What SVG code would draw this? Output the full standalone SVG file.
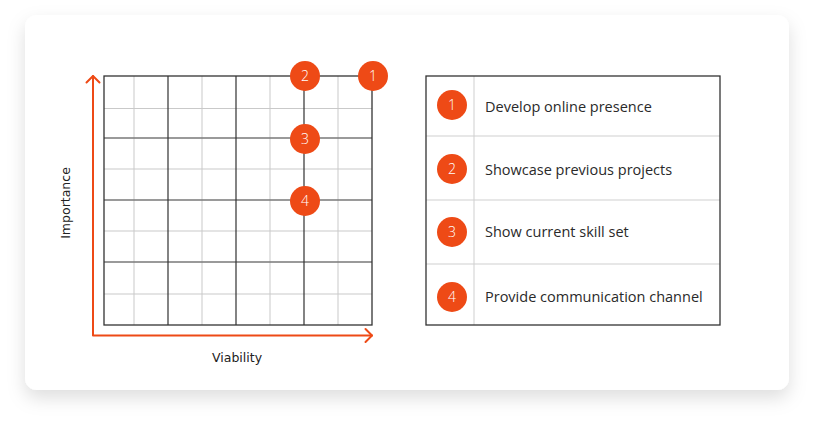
<svg xmlns="http://www.w3.org/2000/svg" width="814" height="426" viewBox="0 0 814 426">
  <defs>
    <filter id="cardShadow" x="-10%" y="-10%" width="120%" height="130%">
      <feDropShadow dx="0" dy="8" stdDeviation="9" flood-color="#000" flood-opacity="0.13"/>
    </filter>
  </defs>
  <style>
    .thin { stroke: #c9c9c9; stroke-width: 1; fill: none; }
    .majv { stroke: #333; stroke-width: 1.2; fill: none; }
    .majh { stroke: #7a7a7a; stroke-width: 1.4; fill: none; }
    .frame { stroke: #333; stroke-width: 1.3; fill: none; }
    .axis { stroke: #ee4a16; stroke-width: 2; fill: none; stroke-linecap: round; stroke-linejoin: round; }
    .dot { fill: #ee4a16; }
    .num { fill: #fff; font-family: "Open Sans", "Liberation Sans", sans-serif; font-size: 14px; font-weight: 300; text-anchor: middle; }
    .label { fill: #2a2a2a; font-family: "Open Sans", "Liberation Sans", sans-serif; font-size: 14.5px; }
    .axislabel { fill: #222; font-family: "DejaVu Sans", sans-serif; font-size: 12.5px; text-anchor: middle; }
    .tdiv { stroke: #cfcfcf; stroke-width: 1; }
  </style>

  <rect width="814" height="426" fill="#ffffff"/>
  <rect x="25" y="15" width="764" height="375" rx="12" fill="#ffffff" filter="url(#cardShadow)"/>

  <!-- matrix grid -->
  <g id="grid">
    <path class="thin" d="M134 76V325M202 76V325M270 76V325M338 76V325"/>
    <path class="thin" d="M104 108.5H372M104 169H372M104 231H372M104 294H372"/>
    <path class="majh" d="M104 138H372M104 200H372M104 262H372"/>
    <path class="majv" d="M168 76V325M236 76V325M304 76V325"/>
    <rect class="frame" x="104" y="76" width="268" height="249"/>
  </g>

  <!-- axes -->
  <g id="connectors">
    <path class="axis" d="M93 335V76"/>
    <path class="axis" d="M86.5 82.5L93 76L99.5 82.5"/>
    <path class="axis" d="M93 335.5H372"/>
    <path class="axis" d="M365.5 329L372 335.5L365.5 342"/>
  </g>

  <g id="axis-x-label"><text class="axislabel" x="237" y="362">Viability</text></g>
  <g id="axis-y-label"><text class="axislabel" transform="translate(70 203) rotate(-90)">Importance</text></g>

  <!-- markers on the matrix -->
  <g id="point-1"><circle class="dot" cx="373" cy="76" r="15"/><text class="num" x="373" y="81">1</text></g>
  <g id="point-2"><circle class="dot" cx="305" cy="76" r="15"/><text class="num" x="305" y="81">2</text></g>
  <g id="point-3"><circle class="dot" cx="305" cy="139" r="15"/><text class="num" x="305" y="144">3</text></g>
  <g id="point-4"><circle class="dot" cx="305" cy="201" r="15"/><text class="num" x="305" y="206">4</text></g>

  <!-- legend table -->
  <g id="legend">
    <line class="tdiv" x1="474" y1="76" x2="474" y2="325"/>
    <line class="tdiv" x1="426" y1="136" x2="720" y2="136"/>
    <line class="tdiv" x1="426" y1="200" x2="720" y2="200"/>
    <line class="tdiv" x1="426" y1="264" x2="720" y2="264"/>
    <rect class="frame" x="426" y="76" width="294" height="249"/>
  </g>
  <g id="legend-1"><circle class="dot" cx="452" cy="105" r="15"/><text class="num" x="452" y="110">1</text><text class="label" x="485" y="112">Develop online presence</text></g>
  <g id="legend-2"><circle class="dot" cx="452" cy="169" r="15"/><text class="num" x="452" y="174">2</text><text class="label" x="485" y="175">Showcase previous projects</text></g>
  <g id="legend-3"><circle class="dot" cx="452" cy="232" r="15"/><text class="num" x="452" y="237">3</text><text class="label" x="485" y="237">Show current skill set</text></g>
  <g id="legend-4"><circle class="dot" cx="452" cy="297" r="15"/><text class="num" x="452" y="302">4</text><text class="label" x="485" y="302">Provide communication channel</text></g>
</svg>
